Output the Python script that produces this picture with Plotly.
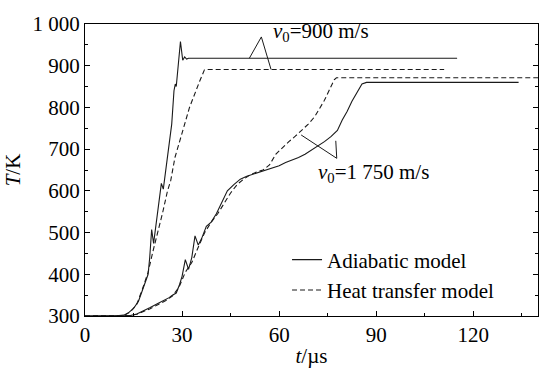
import plotly.graph_objects as go

# v0 = 900 m/s, adiabatic model (solid)
t_900_adi = [0, 9, 12, 13.5, 15, 16.5, 17.8, 18.8, 19.5, 20.0, 20.6, 21.2, 22.0, 23.0, 23.6, 24.2,
             24.8, 25.8, 26.8, 27.5, 27.9, 28.2, 28.7, 29.5, 30.2, 30.8, 31.4, 32.0, 115]
T_900_adi = [300, 300, 302, 308, 318, 335, 363, 382, 400, 440, 507, 474, 520, 575, 618, 604,
             640, 700, 760, 840, 856, 850, 900, 958, 913, 921, 916, 918, 918]

# v0 = 900 m/s, heat transfer model (dashed)
t_900_ht = [0, 9, 12, 14, 16, 18, 19.5, 21, 22.5, 24, 25.5, 26.5, 27.8, 29.2, 30.8, 32.3, 33.8,
            35.4, 36.9, 37.5, 111]
T_900_ht = [300, 300, 301, 310, 328, 370, 405, 455, 500, 548, 600, 625, 680, 715, 760, 800, 832,
            862, 890, 891, 891]

# v0 = 1750 m/s, adiabatic model (solid)
t_1750_adi = [0, 12, 14, 16, 18, 20, 22.5, 24.5, 26, 27, 28.2, 29.2, 30.0, 31.0, 32.0, 33.0, 34.0,
              35.0, 36.0, 37.5, 39, 40.6, 42.5, 44, 46, 48, 50, 52, 54, 56, 58, 60, 62, 64, 66,
              68, 70, 72, 74, 76, 78, 79.5, 81, 82.5, 84, 85.6, 87, 134]
T_1750_adi = [300, 300, 301, 305, 312, 320, 330, 338, 344, 350, 355, 375, 395, 435, 412, 440, 492,
              470, 485, 515, 525, 545, 578, 600, 615, 628, 635, 640, 645, 650, 655, 660, 668, 674,
              680, 688, 698, 707, 718, 730, 745, 770, 790, 815, 835, 856, 860, 860]

# v0 = 1750 m/s, heat transfer model (dashed)
t_1750_ht = [0, 12, 14, 16, 18, 20, 22.5, 25, 27, 29, 31, 33, 35, 37, 39, 41, 43, 45, 47, 49, 51,
             53, 55, 57, 59, 61, 63, 65, 67, 69, 71, 72.5, 74, 75.5, 77, 77.7, 140]
T_1750_ht = [300, 300, 301, 304, 310, 317, 327, 337, 348, 368, 405, 428, 465, 500, 525, 545, 570,
             595, 615, 628, 638, 645, 650, 662, 688, 704, 718, 731, 745, 760, 778, 797, 817, 842,
             866, 871, 871]

x_ticks = [0, 30, 60, 90, 120]
y_ticks = [300, 400, 500, 600, 700, 800, 900, 1000]
y_ticktext = ["300", "400", "500", "600", "700", "800", "900", "1 000"]

FONT = "Liberation Serif, Times New Roman, serif"
FS = 21
INK = "#1a1a1a"
DASH = "5px,3px"

fig = go.Figure()
fig.add_trace(go.Scatter(x=t_900_adi, y=T_900_adi, mode="lines", name="Adiabatic model",
                         line=dict(color=INK, width=1.1)))
fig.add_trace(go.Scatter(x=t_900_ht, y=T_900_ht, mode="lines", name="Heat transfer model",
                         line=dict(color=INK, width=1.1, dash=DASH)))
fig.add_trace(go.Scatter(x=t_1750_adi, y=T_1750_adi, mode="lines", showlegend=False,
                         line=dict(color=INK, width=1.1)))
fig.add_trace(go.Scatter(x=t_1750_ht, y=T_1750_ht, mode="lines", showlegend=False,
                         line=dict(color=INK, width=1.1, dash=DASH)))

# leader lines for labels
leaders = [
    (50.8, 918, 54.5, 969),
    (54.5, 969, 57.5, 891),
    (66.8, 734, 77.8, 678),
    (77.8, 678, 77.5, 720),
]
for x0, y0, x1, y1 in leaders:
    fig.add_shape(type="line", xref="x", yref="y", x0=x0, y0=y0, x1=x1, y1=y1,
                  line=dict(color=INK, width=1))

fig.add_annotation(x=57.6, y=982, xref="x", yref="y", xanchor="left", yanchor="middle",
                   text="<i>v</i><sub>0</sub>=900 m/s", showarrow=False,
                   font=dict(family=FONT, size=FS, color="black"))
fig.add_annotation(x=71.3, y=643, xref="x", yref="y", xanchor="left", yanchor="middle",
                   text="<i>v</i><sub>0</sub>=1 750 m/s", showarrow=False,
                   font=dict(family=FONT, size=FS, color="black"))

axis_common = dict(showline=True, linecolor="black", linewidth=1, ticks="inside", ticklen=5,
                   tickcolor="black", showgrid=False, zeroline=False,
                   tickfont=dict(family=FONT, size=FS, color="black"))

fig.update_xaxes(range=[0, 140], tickvals=x_ticks, mirror=True,
                 minor=dict(dtick=15, tick0=0, ticks="inside", ticklen=3, tickcolor="black"),
                 title=dict(text="<i>t</i>/µs", font=dict(family=FONT, size=FS, color="black"),
                            standoff=2),
                 **axis_common)
fig.update_yaxes(range=[300, 1000], tickvals=y_ticks, ticktext=y_ticktext, mirror="ticks",
                 minor=dict(dtick=50, tick0=300, ticks="inside", ticklen=3, tickcolor="black"),
                 title=dict(text="<i>T</i>/K", font=dict(family=FONT, size=FS, color="black"),
                            standoff=6),
                 **axis_common)

fig.update_layout(
    width=551, height=376,
    margin=dict(l=85, r=12, t=13, b=47),
    plot_bgcolor="white", paper_bgcolor="white",
    font=dict(family=FONT, size=FS, color="black"),
    legend=dict(x=0.446, y=0.262, xanchor="left", yanchor="top", bgcolor="rgba(0,0,0,0)",
                font=dict(family=FONT, size=FS, color="black"), tracegroupgap=0),
)

fig.write_html("out.html")
